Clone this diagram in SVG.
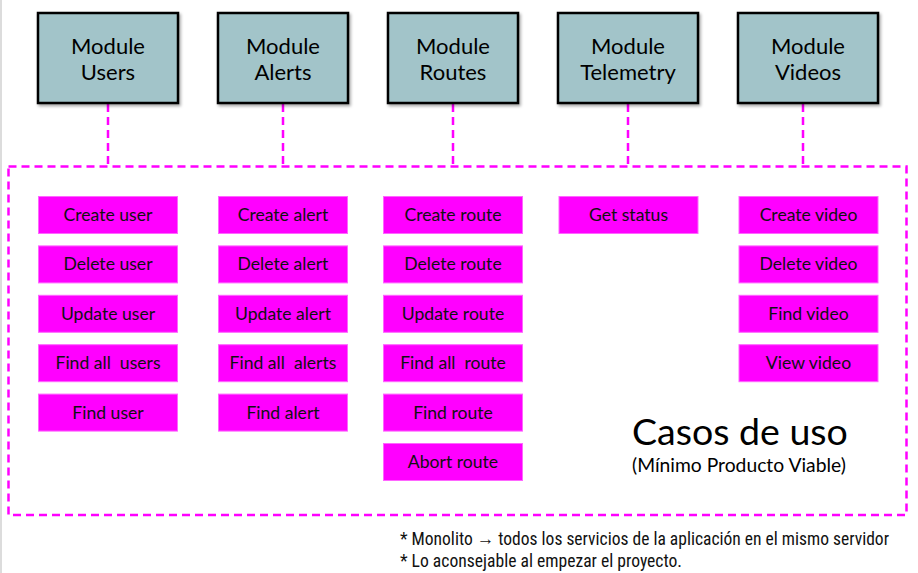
<svg xmlns="http://www.w3.org/2000/svg" width="918" height="573" viewBox="0 0 918 573">
<defs>
<filter id="shadow" x="-10%" y="-10%" width="130%" height="130%">
<feDropShadow dx="1.5" dy="2" stdDeviation="1.5" flood-color="#000" flood-opacity="0.35"/>
</filter>
</defs>
<style>
.mod rect{fill:#a2c4c9;stroke:#000;stroke-width:2.5;filter:url(#shadow)}
.mod text{font-family:Lato,"Noto Sans",sans-serif;font-size:22px;fill:#000;text-anchor:middle}
.uc rect{fill:#ff00ff;stroke:#ff66ff;stroke-width:1}
.uc text{font-family:Lato,"Noto Sans",sans-serif;font-size:17.6px;fill:#111;text-anchor:middle}
.dash{fill:none;stroke:#ff00ff;stroke-width:2.5;stroke-dasharray:8 5}
.title{font-family:Lato,"Noto Sans",sans-serif;fill:#000}
.note{font-family:"Roboto Condensed",Roboto,"Liberation Sans",sans-serif;font-stretch:condensed;font-size:19px;fill:#111}
</style>
<rect x="0" y="0" width="918" height="573" fill="#fff"/>
<line x1="1" y1="0" x2="1" y2="573" stroke="#d0d0d0" stroke-width="1.5"/>

<g id="connectors">
<rect class="dash" x="8.5" y="166.5" width="898" height="348.5"/>
<line class="dash" x1="108" y1="104" x2="108" y2="166.5"/>
<line class="dash" x1="283" y1="104" x2="283" y2="166.5"/>
<line class="dash" x1="453" y1="104" x2="453" y2="166.5"/>
<line class="dash" x1="628" y1="104" x2="628" y2="166.5"/>
<line class="dash" x1="803" y1="104" x2="803" y2="166.5"/>
</g>

<g id="module-users" class="mod"><rect x="38" y="13" width="140" height="90"/><text x="108" y="54">Module</text><text x="108" y="80">Users</text></g>
<g id="module-alerts" class="mod"><rect x="218" y="13" width="130" height="90"/><text x="283" y="54">Module</text><text x="283" y="80">Alerts</text></g>
<g id="module-routes" class="mod"><rect x="388" y="13" width="130" height="90"/><text x="453" y="54">Module</text><text x="453" y="80">Routes</text></g>
<g id="module-telemetry" class="mod"><rect x="558" y="13" width="140" height="90"/><text x="628" y="54">Module</text><text x="628" y="80">Telemetry</text></g>
<g id="module-videos" class="mod"><rect x="738" y="13" width="140" height="90"/><text x="808" y="54">Module</text><text x="808" y="80">Videos</text></g>

<g id="uc-create-user" class="uc"><rect x="38.5" y="196.5" width="139" height="37"/><text x="108" y="221">Create user</text></g>
<g id="uc-delete-user" class="uc"><rect x="38.5" y="245.9" width="139" height="37"/><text x="108" y="270.4">Delete user</text></g>
<g id="uc-update-user" class="uc"><rect x="38.5" y="295.3" width="139" height="37"/><text x="108" y="319.8">Update user</text></g>
<g id="uc-findall-users" class="uc"><rect x="38.5" y="344.7" width="139" height="37"/><text x="108" y="369.2" xml:space="preserve">Find all  users</text></g>
<g id="uc-find-user" class="uc"><rect x="38.5" y="394.1" width="139" height="37"/><text x="108" y="418.6">Find user</text></g>

<g id="uc-create-alert" class="uc"><rect x="218.5" y="196.5" width="129" height="37"/><text x="283" y="221">Create alert</text></g>
<g id="uc-delete-alert" class="uc"><rect x="218.5" y="245.9" width="129" height="37"/><text x="283" y="270.4">Delete alert</text></g>
<g id="uc-update-alert" class="uc"><rect x="218.5" y="295.3" width="129" height="37"/><text x="283" y="319.8">Update alert</text></g>
<g id="uc-findall-alerts" class="uc"><rect x="218.5" y="344.7" width="129" height="37"/><text x="283" y="369.2" xml:space="preserve">Find all  alerts</text></g>
<g id="uc-find-alert" class="uc"><rect x="218.5" y="394.1" width="129" height="37"/><text x="283" y="418.6">Find alert</text></g>

<g id="uc-create-route" class="uc"><rect x="383.5" y="196.5" width="139" height="37"/><text x="453" y="221">Create route</text></g>
<g id="uc-delete-route" class="uc"><rect x="383.5" y="245.9" width="139" height="37"/><text x="453" y="270.4">Delete route</text></g>
<g id="uc-update-route" class="uc"><rect x="383.5" y="295.3" width="139" height="37"/><text x="453" y="319.8">Update route</text></g>
<g id="uc-findall-route" class="uc"><rect x="383.5" y="344.7" width="139" height="37"/><text x="453" y="369.2" xml:space="preserve">Find all  route</text></g>
<g id="uc-find-route" class="uc"><rect x="383.5" y="394.1" width="139" height="37"/><text x="453" y="418.6">Find route</text></g>
<g id="uc-abort-route" class="uc"><rect x="383.5" y="443.5" width="139" height="37"/><text x="453" y="468">Abort route</text></g>

<g id="uc-get-status" class="uc"><rect x="559" y="196.5" width="139" height="37"/><text x="628.5" y="221">Get status</text></g>

<g id="uc-create-video" class="uc"><rect x="739" y="196.5" width="139" height="37"/><text x="808.5" y="221">Create video</text></g>
<g id="uc-delete-video" class="uc"><rect x="739" y="245.9" width="139" height="37"/><text x="808.5" y="270.4">Delete video</text></g>
<g id="uc-find-video" class="uc"><rect x="739" y="295.3" width="139" height="37"/><text x="808.5" y="319.8">Find video</text></g>
<g id="uc-view-video" class="uc"><rect x="739" y="344.7" width="139" height="37"/><text x="808.5" y="369.2">View video</text></g>

<g id="title">
<text class="title" x="632" y="445" font-size="37.5">Casos de uso</text>
<text class="title" x="632" y="472" font-size="19.3">(Mínimo Producto Viable)</text>
</g>

<g id="notes">
<text class="note" x="400" y="544.5" textLength="489" lengthAdjust="spacingAndGlyphs">* Monolito → todos los servicios de la aplicación en el mismo servidor</text>
<text class="note" x="400" y="566.5" textLength="282" lengthAdjust="spacingAndGlyphs">* Lo aconsejable al empezar el proyecto.</text>
</g>
</svg>
